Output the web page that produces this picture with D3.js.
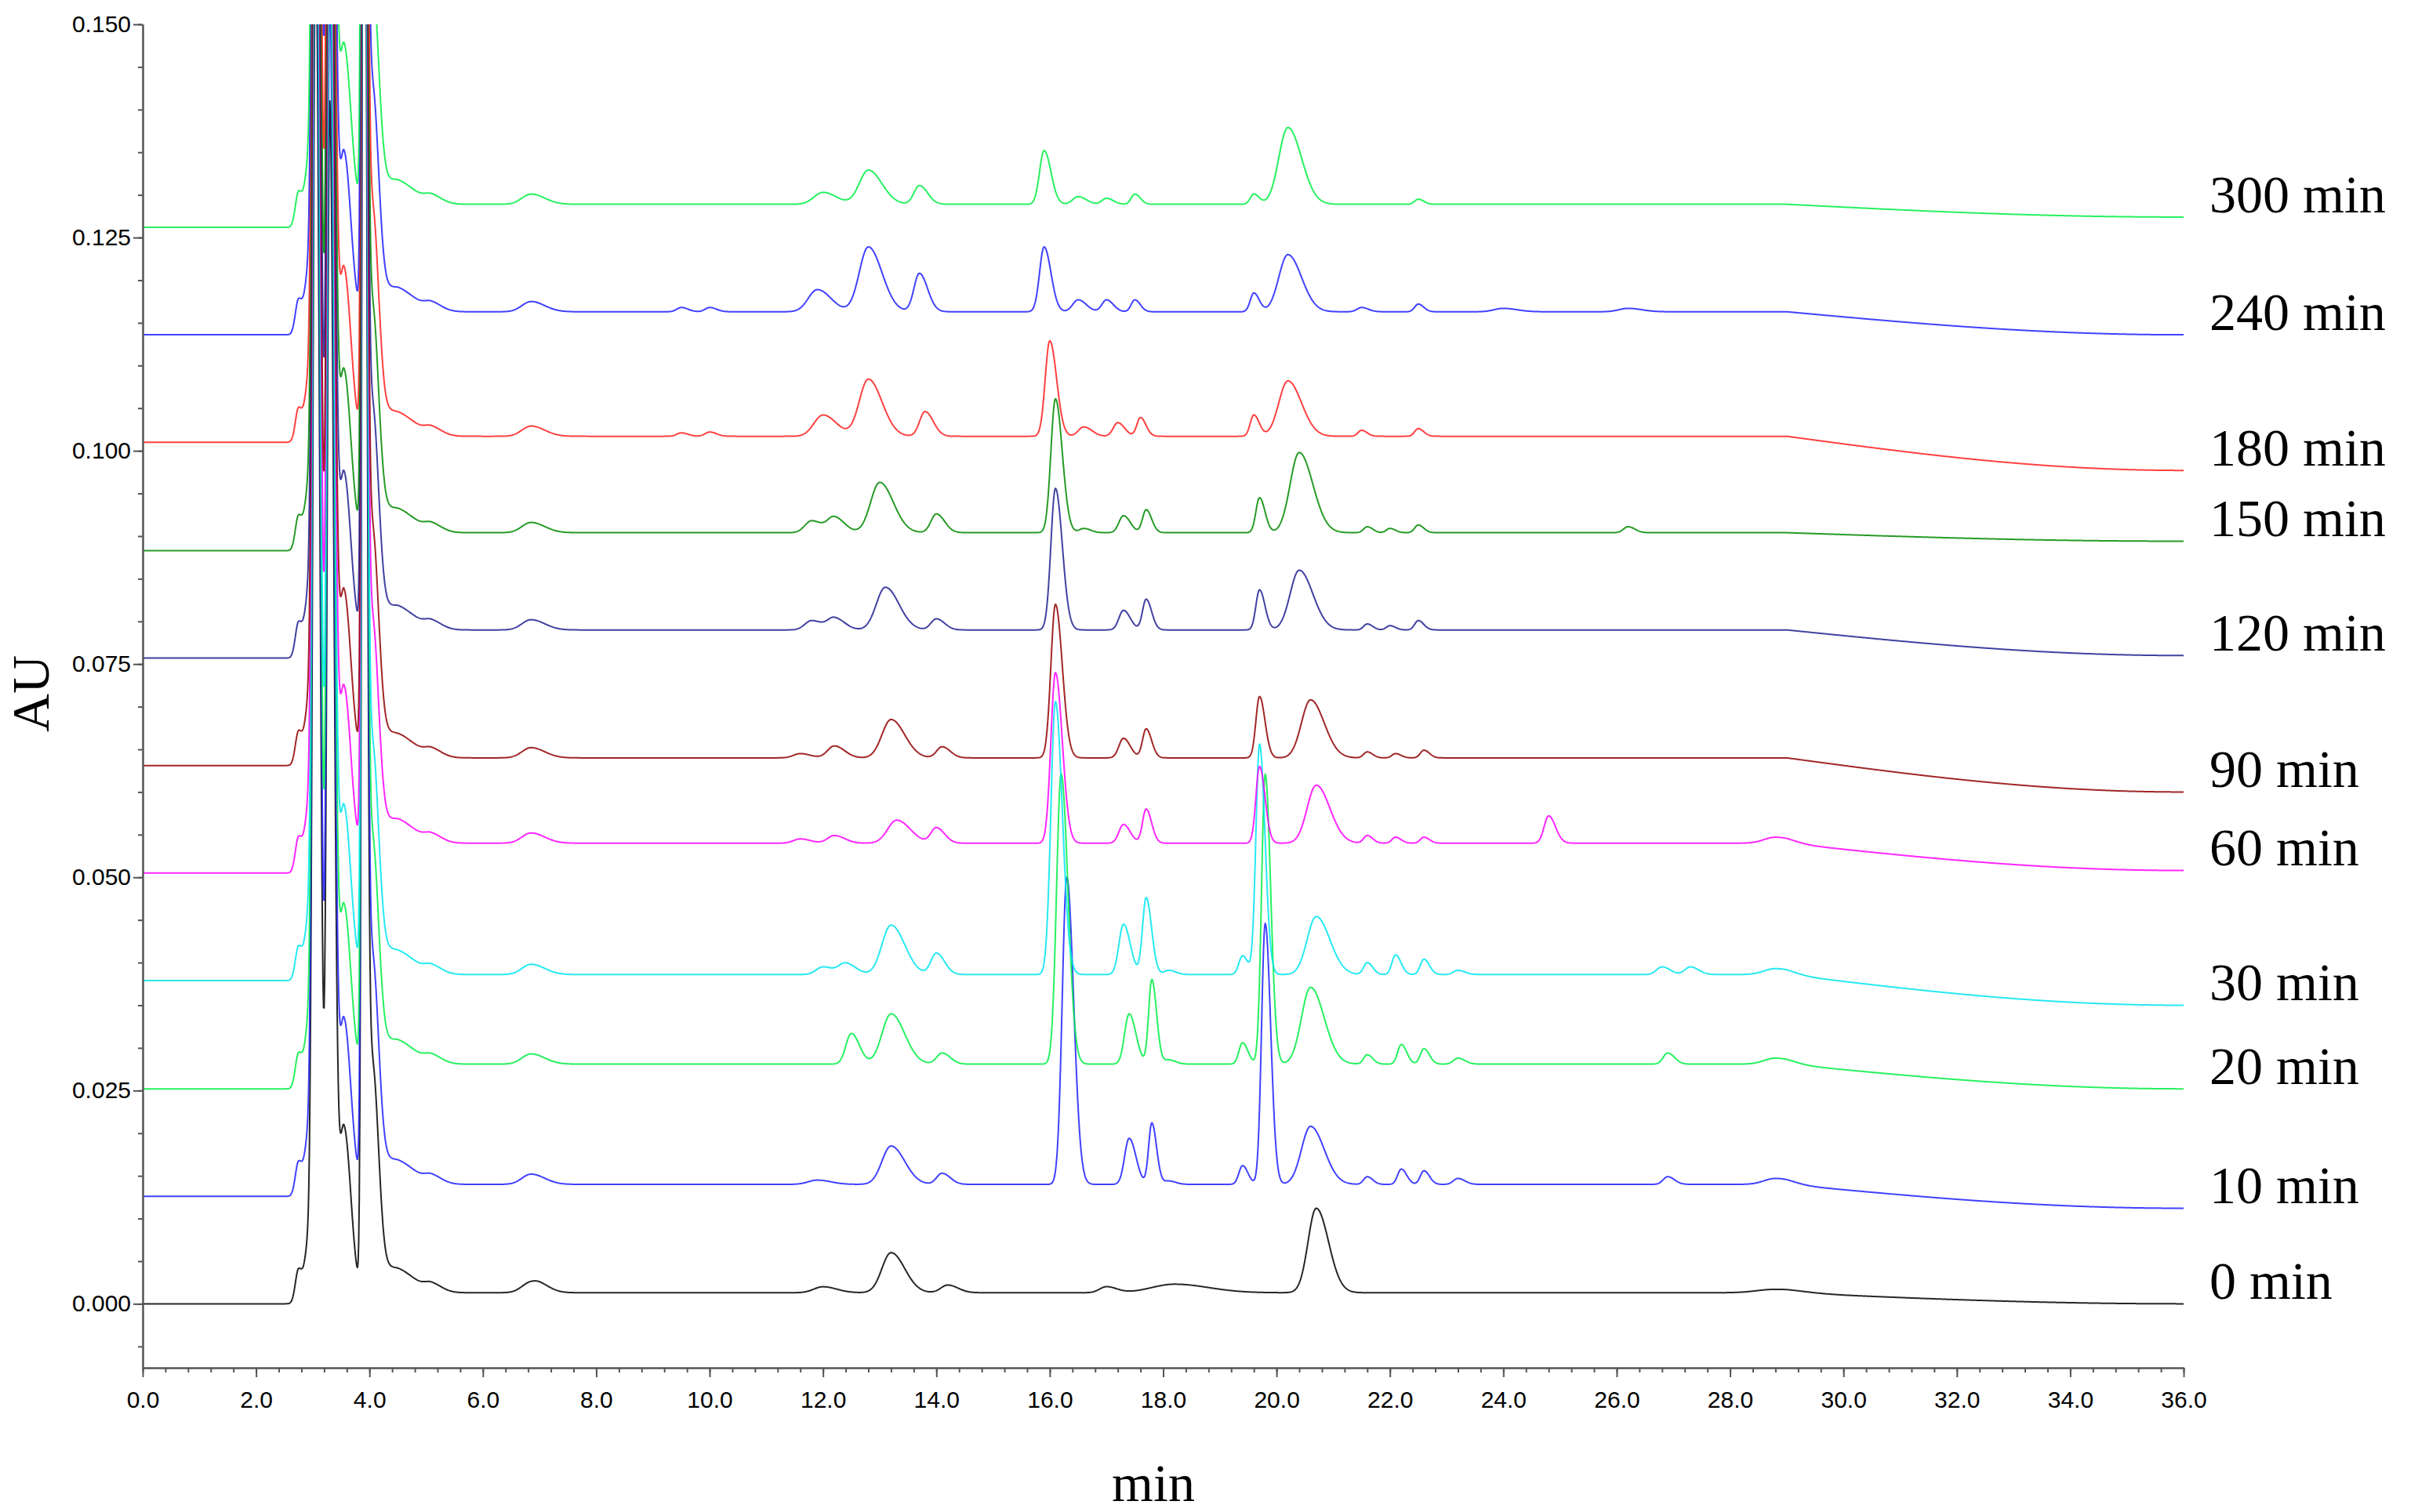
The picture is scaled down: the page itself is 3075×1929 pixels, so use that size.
<!DOCTYPE html>
<html lang="en">
<head>
  <meta charset="UTF-8" />
  <title>HPLC chromatograms</title>
  <style>
    body { margin: 0; background: #fff; }
    svg { display: block; }
    .tick text { font-family: "Liberation Sans", Arial, sans-serif; font-size: 30px; fill: #000; }
    .axis path, .axis line { stroke: #555; stroke-width: 2px; }
    .trace { fill: none; stroke-width: 2px; stroke-linejoin: round; }
    .lab { font-family: "Liberation Serif", "Times New Roman", serif; font-size: 68px; fill: #000; }
  </style>
</head>
<body>
<svg></svg>
<script src="https://cdnjs.cloudflare.com/ajax/libs/d3/7.8.5/d3.min.js"></script>
<script>
// Trace names (top to bottom) and colours
const traceNames = ["300 min", "240 min", "180 min", "150 min", "120 min", "90 min", "60 min", "30 min", "20 min", "10 min", "0 min"];
const traceColors = ["#00ee44", "#2020ff", "#ff2020", "#008a00", "#202090", "#900000", "#ff00ff", "#00e5f0", "#00ee44", "#2020ff", "#000000"];

// Baselines in AU: before injection, plateau (5–29 min), end (36 min)
const basePre = [0.1262, 0.1136, 0.1010, 0.0883, 0.0757, 0.0631, 0.0505, 0.0379, 0.0252, 0.0126, 0.0000];
const baseMid = [0.1289, 0.1163, 0.1017, 0.0904, 0.0790, 0.0640, 0.0540, 0.0386, 0.0281, 0.0140, 0.0013];
const baseEnd = [0.1274, 0.1136, 0.0977, 0.0894, 0.0760, 0.0600, 0.0508, 0.0350, 0.0252, 0.0112, 0.0000];

// Solvent-front cluster, shared by all traces: [time min, height mAU, width min]
const frontPeaks = [[2.75, 4, 0.07], [2.92, 6, 0.07], [3.05, 160, 0.06], [3.3, 140, 0.06], [3.55, 20, 0.1],
                    [3.9, 220, 0.04], [4.05, 26, 0.09], [4.4, 3, 0.3], [5.1, 0.8, 0.15], [6.85, 1.2, 0.2]];

// Sample peaks per trace: [time min, height mAU, width min]
const tracePeaks = [
  [[12.0, 1.4, 0.2], [12.8, 4.0, 0.2], [13.7, 2.2, 0.12], [15.9, 6.3, 0.1], [16.5, 0.9, 0.12], [17.0, 0.7, 0.1], [17.5, 1.2, 0.08], [19.6, 1.2, 0.08], [20.2, 9.0, 0.2], [22.5, 0.6, 0.08]],
  [[9.5, 0.5, 0.1], [10.0, 0.5, 0.1], [11.9, 2.6, 0.2], [12.8, 7.6, 0.2], [13.7, 4.5, 0.12], [15.9, 7.6, 0.1], [16.5, 1.4, 0.12], [17.0, 1.4, 0.1], [17.5, 1.4, 0.08], [19.6, 2.2, 0.08], [20.2, 6.7, 0.2], [21.5, 0.5, 0.1], [22.5, 0.9, 0.08], [24.0, 0.4, 0.2], [26.2, 0.4, 0.2]],
  [[9.5, 0.4, 0.1], [10.0, 0.5, 0.1], [12.0, 2.5, 0.2], [12.8, 6.7, 0.2], [13.8, 2.9, 0.12], [16.0, 11.2, 0.1], [16.6, 1.1, 0.12], [17.2, 1.6, 0.1], [17.6, 2.2, 0.08], [19.6, 2.5, 0.08], [20.2, 6.5, 0.2], [21.5, 0.7, 0.08], [22.5, 0.9, 0.08]],
  [[11.8, 1.4, 0.15], [12.2, 1.8, 0.15], [13.0, 5.9, 0.2], [14.0, 2.2, 0.12], [16.1, 15.7, 0.1], [16.6, 0.5, 0.1], [17.3, 2.0, 0.1], [17.7, 2.7, 0.08], [19.7, 4.1, 0.08], [20.4, 9.4, 0.2], [21.6, 0.7, 0.08], [22.0, 0.5, 0.08], [22.5, 0.9, 0.08], [26.2, 0.7, 0.1]],
  [[11.8, 1.1, 0.15], [12.2, 1.4, 0.15], [13.1, 5.0, 0.2], [14.0, 1.3, 0.12], [16.1, 16.6, 0.1], [17.3, 2.3, 0.1], [17.7, 3.6, 0.08], [19.7, 4.7, 0.08], [20.4, 7.0, 0.2], [21.6, 0.7, 0.08], [22.0, 0.5, 0.08], [22.5, 1.1, 0.08]],
  [[11.6, 0.5, 0.15], [12.2, 1.4, 0.15], [13.2, 4.5, 0.2], [14.1, 1.3, 0.12], [16.1, 18.0, 0.1], [17.3, 2.3, 0.1], [17.7, 3.4, 0.08], [19.7, 7.2, 0.08], [20.6, 6.8, 0.2], [21.6, 0.7, 0.08], [22.1, 0.5, 0.08], [22.6, 0.9, 0.08]],
  [[11.6, 0.5, 0.15], [12.2, 0.9, 0.15], [13.3, 2.7, 0.2], [14.0, 1.8, 0.12], [16.1, 20.0, 0.1], [17.3, 2.2, 0.1], [17.7, 4.0, 0.08], [19.7, 9.0, 0.08], [20.7, 6.8, 0.2], [21.6, 0.9, 0.08], [22.1, 0.7, 0.08], [22.6, 0.7, 0.08], [24.8, 3.2, 0.1], [28.8, 0.7, 0.25]],
  [[12.0, 0.9, 0.15], [12.4, 1.3, 0.15], [13.2, 5.8, 0.2], [14.0, 2.5, 0.12], [16.1, 32.0, 0.1], [17.3, 5.9, 0.1], [17.7, 9.0, 0.08], [18.1, 0.5, 0.1], [19.4, 2.2, 0.08], [19.7, 27.0, 0.08], [20.7, 6.8, 0.2], [21.6, 1.4, 0.08], [22.1, 2.3, 0.08], [22.6, 1.8, 0.08], [23.2, 0.5, 0.1], [26.8, 0.9, 0.12], [27.3, 0.9, 0.12], [28.8, 0.7, 0.25]],
  [[12.5, 3.6, 0.12], [13.2, 5.9, 0.2], [14.1, 1.3, 0.12], [16.2, 34.0, 0.1], [17.4, 5.9, 0.1], [17.8, 9.9, 0.07], [18.1, 0.5, 0.1], [19.4, 2.5, 0.08], [19.8, 34.0, 0.08], [20.6, 9.0, 0.2], [21.6, 1.1, 0.08], [22.2, 2.3, 0.08], [22.6, 1.8, 0.08], [23.2, 0.7, 0.1], [26.9, 1.3, 0.1], [28.8, 0.7, 0.25]],
  [[11.9, 0.5, 0.2], [13.2, 4.5, 0.2], [14.1, 1.3, 0.12], [16.3, 36.0, 0.1], [17.4, 5.4, 0.1], [17.8, 7.2, 0.07], [18.1, 0.4, 0.1], [19.4, 2.2, 0.08], [19.8, 30.6, 0.08], [20.6, 6.8, 0.2], [21.6, 0.9, 0.08], [22.2, 1.8, 0.08], [22.6, 1.6, 0.08], [23.2, 0.7, 0.1], [26.9, 0.9, 0.1], [28.8, 0.7, 0.25]],
  [[7.0, 0.3, 0.15], [12.0, 0.7, 0.2], [13.2, 4.7, 0.2], [14.2, 0.9, 0.15], [17.0, 0.7, 0.15], [18.2, 1.0, 0.5], [20.7, 9.9, 0.18], [28.8, 0.4, 0.4]]
];

const xTicks = d3.range(0, 36.01, 2);
const yTicks = d3.range(0, 0.1501, 0.025);

const W = 3075, H = 1929;
const svg = d3.select("svg").attr("width", W).attr("height", H);
const x = d3.scaleLinear().domain([0, 36]).range([182, 2785]);
const y = d3.scaleLinear().domain([-0.0075, 0.150]).range([1745, 31]);

svg.append("defs").append("clipPath").attr("id", "plot")
  .append("rect").attr("x", 182).attr("y", 31).attr("width", 2603).attr("height", 1714);

function baseline(i, t) {
  if (t < 2.6) return basePre[i];
  if (t < 4.5) return basePre[i] + (baseMid[i] - basePre[i]) * (t - 2.6) / 1.9;
  if (t < 29) return baseMid[i];
  // smooth drift towards the end value
  const f = (t - 29) / 7;
  return baseMid[i] + (baseEnd[i] - baseMid[i]) * Math.sin(f * Math.PI / 2);
}
// slightly tailed gaussian
function peak(t, p) {
  const s = t < p[0] ? p[2] * 0.8 : p[2] * 1.2;
  return p[1] / 1000 * Math.exp(-0.5 * ((t - p[0]) / s) ** 2);
}

const times = d3.range(0, 36.001, 0.01);
const line = d3.line().x(d => x(d[0])).y(d => y(d[1]));
const g = svg.append("g").attr("clip-path", "url(#plot)");

// draw bottom trace first so upper traces lie over it
d3.range(traceNames.length).reverse().forEach(i => {
  const all = frontPeaks.concat(tracePeaks[i]);
  const pts = times.map(t => [t, baseline(i, t) + d3.sum(all, p => peak(t, p))]);
  g.append("path").attr("class", "trace").attr("stroke", traceColors[i])
    .attr("stroke-opacity", 0.85).attr("d", line(pts));
  svg.append("text").attr("class", "lab")
    .attr("x", 2818).attr("y", y(baseEnd[i]) - 22)
    .attr("dominant-baseline", "middle").text(traceNames[i]);
});

// axes
const xAxis = svg.append("g").attr("class", "axis").attr("transform", "translate(0,1745)")
  .call(d3.axisBottom(x).tickValues(xTicks).tickFormat(d3.format(".1f")).tickSize(12).tickSizeOuter(0));
xAxis.selectAll("text").attr("dy", "1.2em");
svg.append("g").attr("class", "axis").attr("transform", "translate(0,1745)")
  .call(d3.axisBottom(x).tickValues(d3.range(0, 36.01, 0.4)).tickFormat("").tickSize(6).tickSizeOuter(0));

svg.append("g").attr("class", "axis").attr("transform", "translate(182,0)")
  .call(d3.axisLeft(y).tickValues(yTicks).tickFormat(d3.format(".3f")).tickSize(12).tickSizeOuter(0));
svg.append("g").attr("class", "axis").attr("transform", "translate(182,0)")
  .call(d3.axisLeft(y).tickValues(d3.range(-0.005, 0.1501, 0.005)).tickFormat("").tickSize(6).tickSizeOuter(0));

svg.append("text").attr("class", "lab").attr("text-anchor", "middle")
  .attr("transform", "translate(62,885) rotate(-90)").text("AU");
svg.append("text").attr("class", "lab").attr("text-anchor", "middle")
  .attr("x", 1471).attr("y", 1915).text("min");
</script>
</body>
</html>
